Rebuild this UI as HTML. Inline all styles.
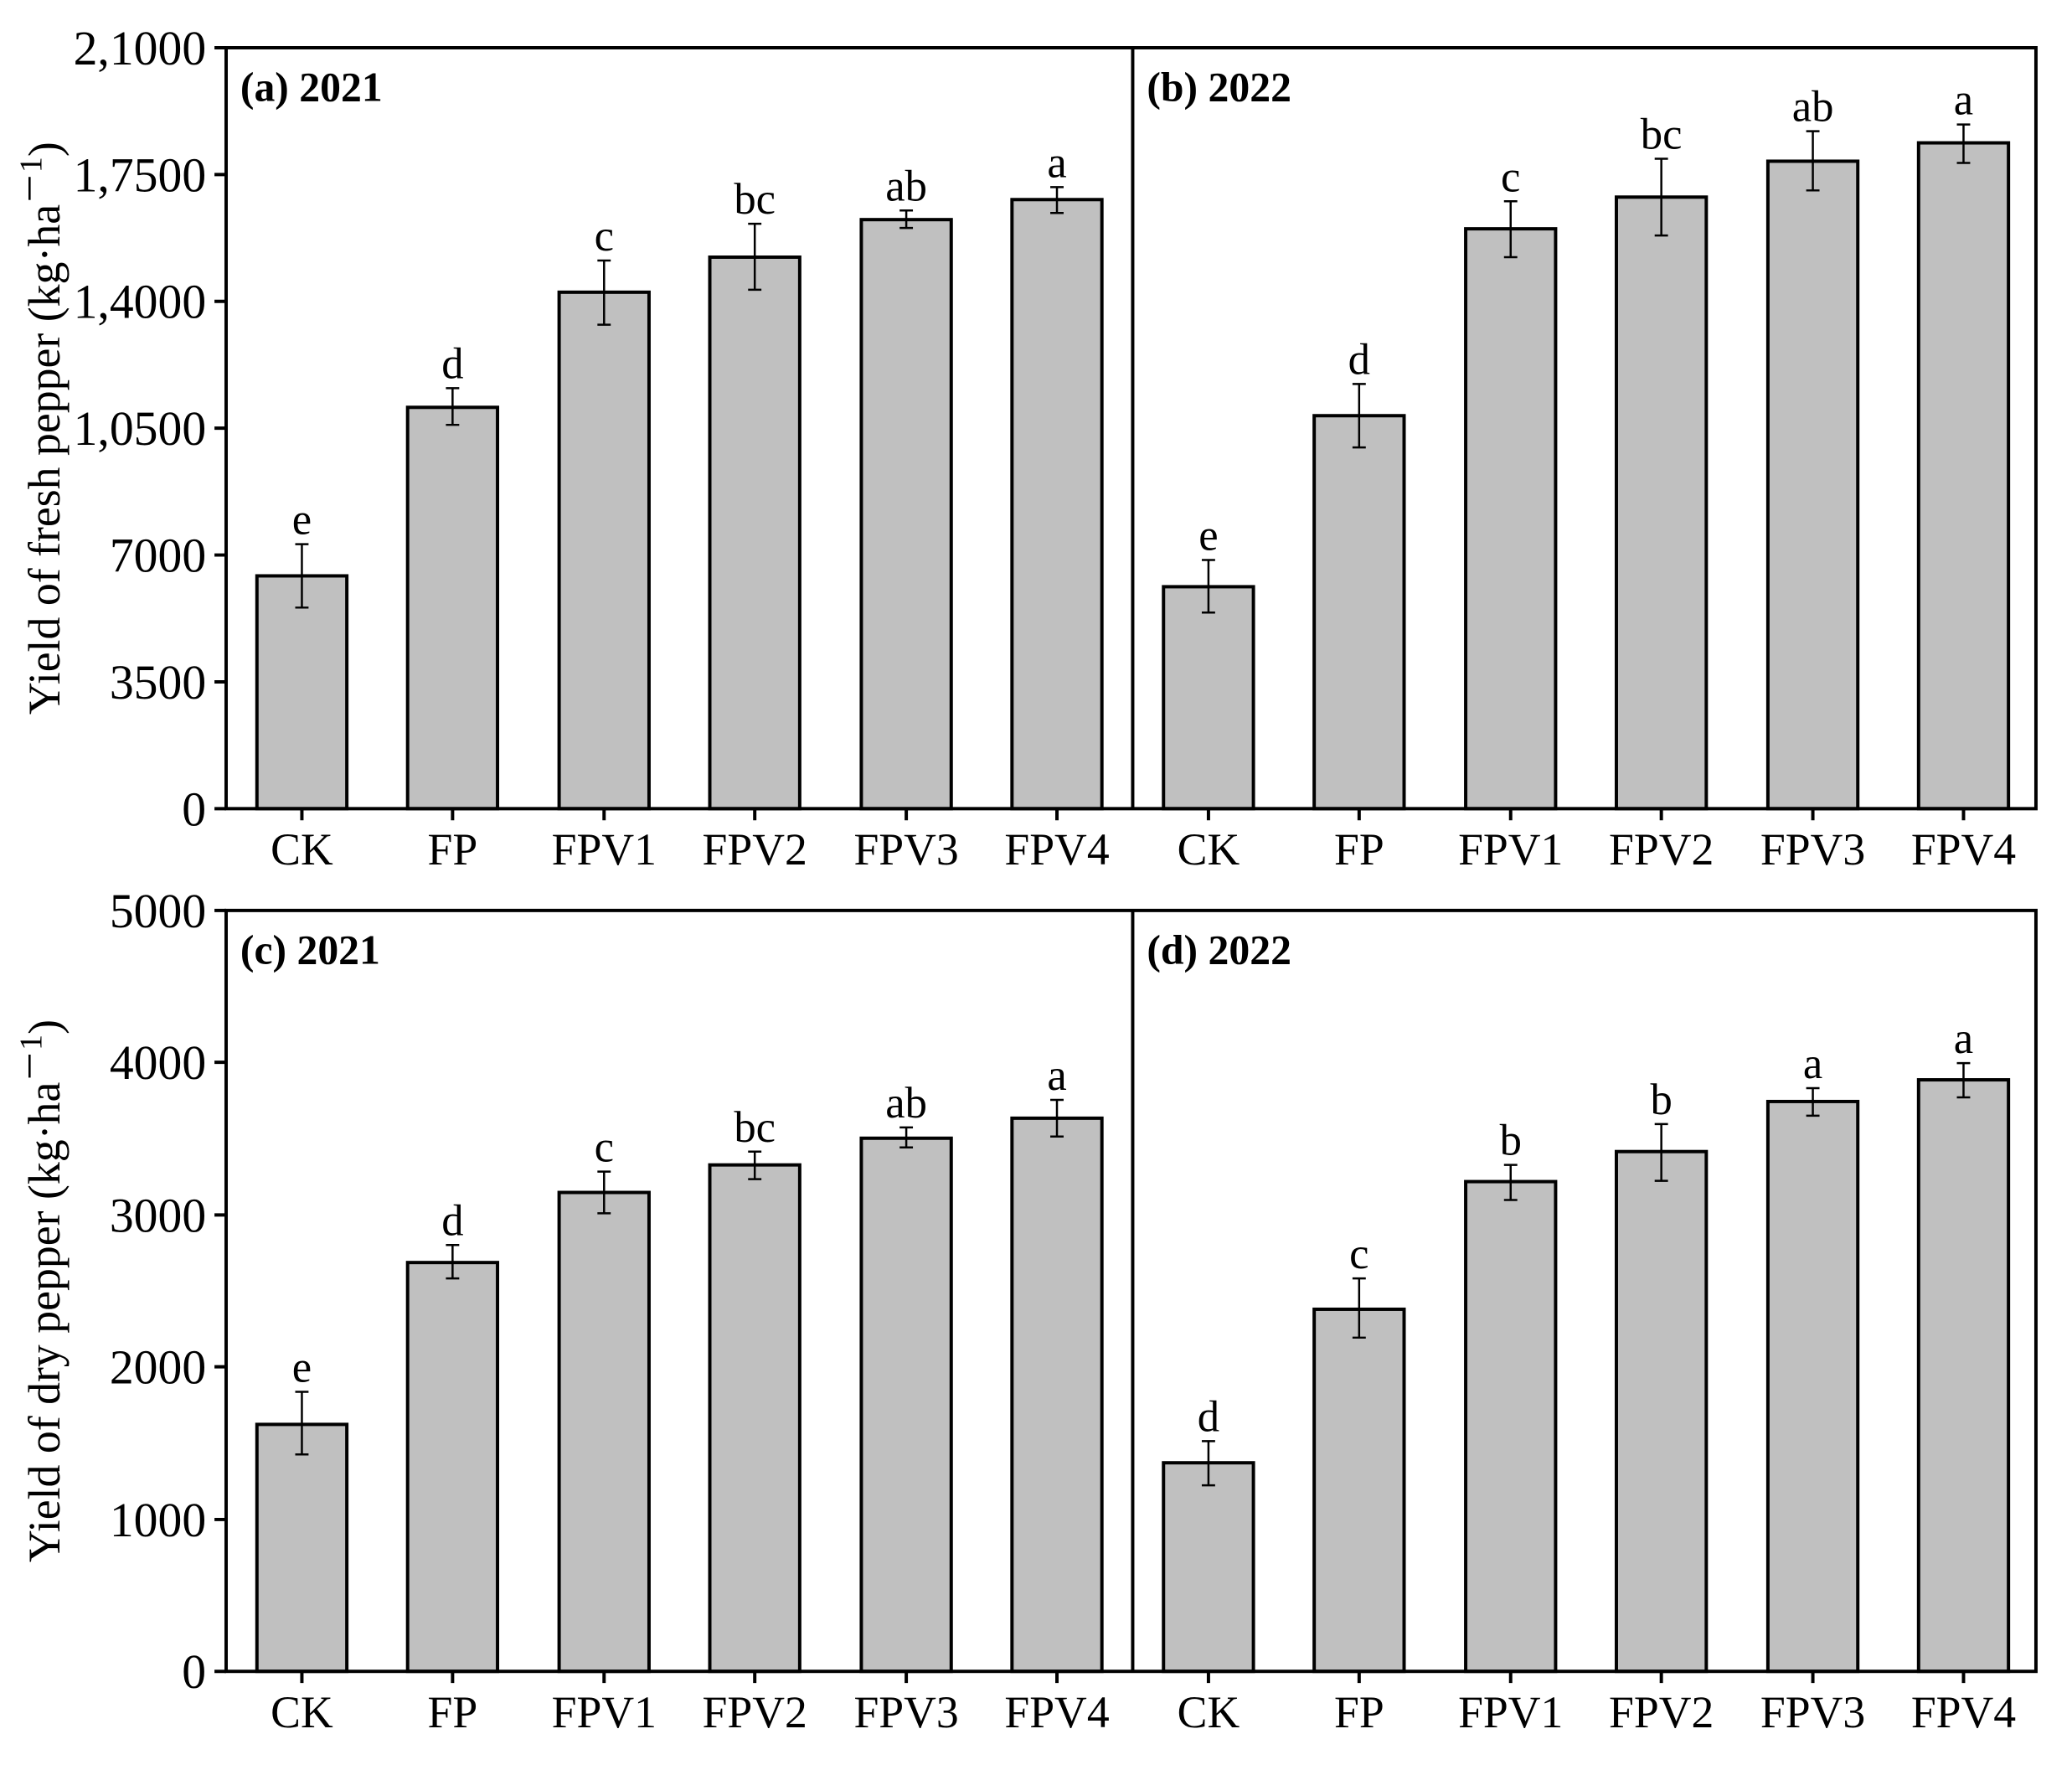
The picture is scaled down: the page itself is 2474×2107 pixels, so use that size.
<!DOCTYPE html>
<html><head><meta charset="utf-8"><style>
html,body{margin:0;padding:0;background:#fff}
svg{display:block}
text{font-family:"Liberation Serif",serif;fill:#000}
.t{font-size:54px}
.y{font-size:58px}
.b{font-size:50px;font-weight:bold}
.l{font-size:53px}
</style></head><body>
<svg width="2474" height="2107" viewBox="0 0 2474 2107" xmlns="http://www.w3.org/2000/svg">
<g transform="translate(270,57) scale(0.994,0.996) translate(-270,-57)">
<g fill="#c0c0c0" stroke="#000" stroke-width="4">
<rect x="307" y="690" width="108" height="279"/>
<rect x="488" y="488" width="108" height="481"/>
<rect x="670" y="350" width="108" height="619"/>
<rect x="851" y="308" width="108" height="661"/>
<rect x="1033" y="263" width="108" height="706"/>
<rect x="1214" y="239" width="108" height="730"/>
<rect x="1396" y="703" width="108" height="266"/>
<rect x="1577" y="498" width="108" height="471"/>
<rect x="1759" y="274" width="108" height="695"/>
<rect x="1940" y="236" width="108" height="733"/>
<rect x="2122" y="193" width="108" height="776"/>
<rect x="2303" y="171" width="108" height="798"/>
<rect x="307" y="1707" width="108" height="296"/>
<rect x="488" y="1513" width="108" height="490"/>
<rect x="670" y="1429" width="108" height="574"/>
<rect x="851" y="1396" width="108" height="607"/>
<rect x="1033" y="1364" width="108" height="639"/>
<rect x="1214" y="1340" width="108" height="663"/>
<rect x="1396" y="1753" width="108" height="250"/>
<rect x="1577" y="1569" width="108" height="434"/>
<rect x="1759" y="1416" width="108" height="587"/>
<rect x="1940" y="1380" width="108" height="623"/>
<rect x="2122" y="1320" width="108" height="683"/>
<rect x="2303" y="1294" width="108" height="709"/>
</g>
<g stroke="#000" stroke-width="2.5" fill="none">
<path d="M361 652V728M353 652H369M353 728H369"/>
<path d="M542 465V509M534 465H550M534 509H550"/>
<path d="M724 312V389M716 312H732M716 389H732"/>
<path d="M905 268V347M897 268H913M897 347H913"/>
<path d="M1087 252V273M1079 252H1095M1079 273H1095"/>
<path d="M1268 224V255M1260 224H1276M1260 255H1276"/>
<path d="M1450 671V734M1442 671H1458M1442 734H1458"/>
<path d="M1631 460V536M1623 460H1639M1623 536H1639"/>
<path d="M1813 241V308M1805 241H1821M1805 308H1821"/>
<path d="M1994 190V282M1986 190H2002M1986 282H2002"/>
<path d="M2176 157V228M2168 157H2184M2168 228H2184"/>
<path d="M2357 149V195M2349 149H2365M2349 195H2365"/>
<path d="M361 1668V1743M353 1668H369M353 1743H369"/>
<path d="M542 1492V1532M534 1492H550M534 1532H550"/>
<path d="M724 1404V1454M716 1404H732M716 1454H732"/>
<path d="M905 1380V1413M897 1380H913M897 1413H913"/>
<path d="M1087 1351V1375M1079 1351H1095M1079 1375H1095"/>
<path d="M1268 1318V1362M1260 1318H1276M1260 1362H1276"/>
<path d="M1450 1727V1780M1442 1727H1458M1442 1780H1458"/>
<path d="M1631 1532V1603M1623 1532H1639M1623 1603H1639"/>
<path d="M1813 1396V1438M1805 1396H1821M1805 1438H1821"/>
<path d="M1994 1347V1415M1986 1347H2002M1986 1415H2002"/>
<path d="M2176 1304V1337M2168 1304H2184M2168 1337H2184"/>
<path d="M2357 1274V1315M2349 1274H2365M2349 1315H2365"/>
</g>
<g stroke="#000" stroke-width="4" fill="none">
<rect x="270" y="57" width="2174" height="912"/>
<path d="M1359 57V969"/>
<rect x="270" y="1091" width="2174" height="912"/>
<path d="M1359 1091V2003"/>
<path d="M256 57H270M256 209H270M256 361H270M256 513H270M256 665H270M256 817H270M256 969H270"/>
<path d="M256 1091H270M256 1273H270M256 1456H270M256 1638H270M256 1821H270M256 2003H270"/>
<path d="M361 969V983M542 969V983M724 969V983M905 969V983M1087 969V983M1268 969V983M1450 969V983M1631 969V983M1813 969V983M1994 969V983M2176 969V983M2357 969V983"/>
<path d="M361 2003V2017M542 2003V2017M724 2003V2017M905 2003V2017M1087 2003V2017M1268 2003V2017M1450 2003V2017M1631 2003V2017M1813 2003V2017M1994 2003V2017M2176 2003V2017M2357 2003V2017"/>
</g>
<g class="y" text-anchor="end">
<text x="246" y="77">2,1000</text>
<text x="246" y="229">1,7500</text>
<text x="246" y="381">1,4000</text>
<text x="246" y="533">1,0500</text>
<text x="246" y="685">7000</text>
<text x="246" y="837">3500</text>
<text x="246" y="989">0</text>
<text x="246" y="1111">5000</text>
<text x="246" y="1293">4000</text>
<text x="246" y="1476">3000</text>
<text x="246" y="1658">2000</text>
<text x="246" y="1841">1000</text>
<text x="246" y="2023">0</text>
</g>
<g class="t" text-anchor="middle">
<text x="361" y="1036">CK</text><text x="542" y="1036">FP</text><text x="724" y="1036">FPV1</text><text x="905" y="1036">FPV2</text><text x="1087" y="1036">FPV3</text><text x="1268" y="1036">FPV4</text>
<text x="1450" y="1036">CK</text><text x="1631" y="1036">FP</text><text x="1813" y="1036">FPV1</text><text x="1994" y="1036">FPV2</text><text x="2176" y="1036">FPV3</text><text x="2357" y="1036">FPV4</text>
<text x="361" y="2070">CK</text><text x="542" y="2070">FP</text><text x="724" y="2070">FPV1</text><text x="905" y="2070">FPV2</text><text x="1087" y="2070">FPV3</text><text x="1268" y="2070">FPV4</text>
<text x="1450" y="2070">CK</text><text x="1631" y="2070">FP</text><text x="1813" y="2070">FPV1</text><text x="1994" y="2070">FPV2</text><text x="2176" y="2070">FPV3</text><text x="2357" y="2070">FPV4</text>
</g>
<g class="l" text-anchor="middle">
<text x="361" y="640">e</text><text x="542" y="453">d</text><text x="724" y="300">c</text><text x="905" y="256">bc</text><text x="1087" y="240">ab</text><text x="1268" y="212">a</text>
<text x="1450" y="659">e</text><text x="1631" y="448">d</text><text x="1813" y="229">c</text><text x="1994" y="178">bc</text><text x="2176" y="145">ab</text><text x="2357" y="137">a</text>
<text x="361" y="1656">e</text><text x="542" y="1480">d</text><text x="724" y="1392">c</text><text x="905" y="1368">bc</text><text x="1087" y="1339">ab</text><text x="1268" y="1306">a</text>
<text x="1450" y="1715">d</text><text x="1631" y="1520">c</text><text x="1813" y="1384">b</text><text x="1994" y="1335">b</text><text x="2176" y="1292">a</text><text x="2357" y="1262">a</text>
</g>
<g class="b">
<text x="287" y="121">(a) 2021</text>
<text x="1376" y="121">(b) 2022</text>
<text x="287" y="1155">(c) 2021</text>
<text x="1376" y="1155">(d) 2022</text>
</g>
<g text-anchor="middle" style="font-size:54px">
<text transform="translate(70,513) rotate(-90)">Yield of fresh pepper (kg·ha<tspan dy="-22" font-size="38">－1</tspan><tspan dy="22">)</tspan></text>
<text transform="translate(70,1547) rotate(-90)">Yield of dry pepper (kg·ha<tspan dy="-22" font-size="38">－1</tspan><tspan dy="22">)</tspan></text>
</g>
</g>
</svg>
</body></html>
